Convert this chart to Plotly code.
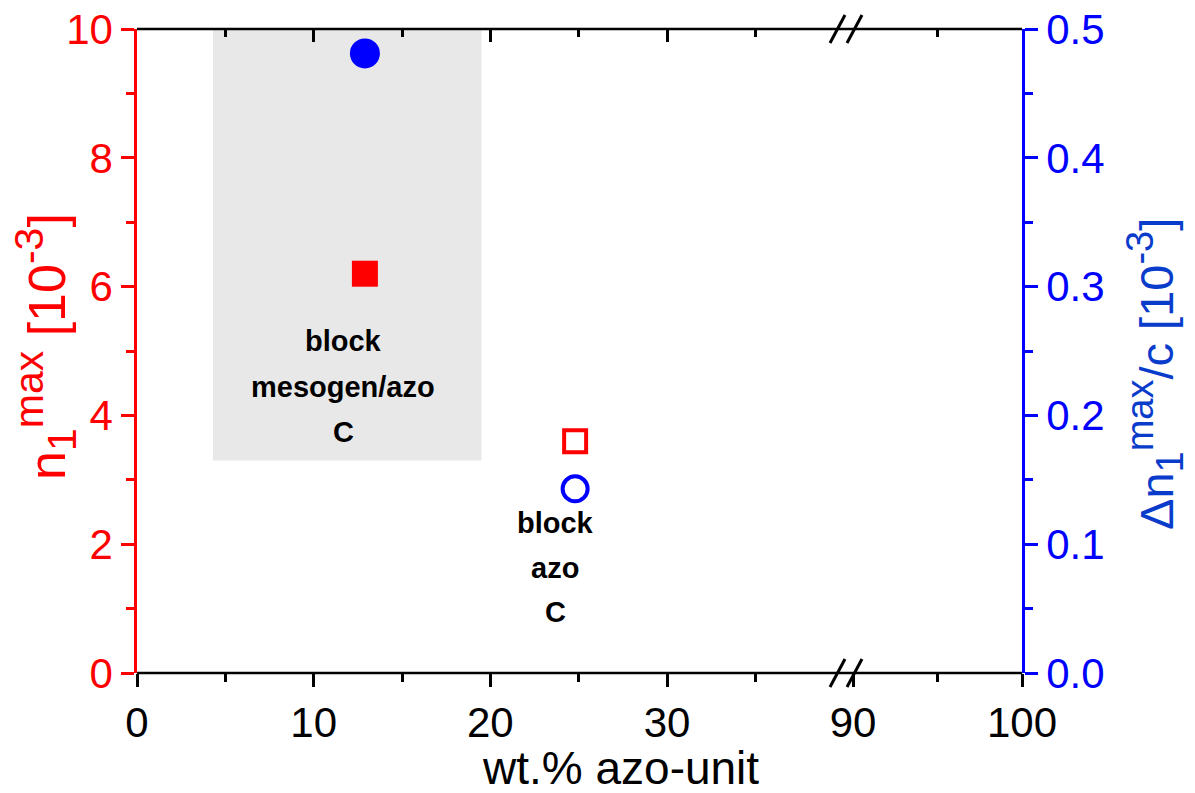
import plotly.graph_objects as go

# ---- data ----
x_filled = [12.9]
n1_filled = [6.2]          # left axis, red filled square
dn1_filled = [0.481]       # right axis, blue filled circle
x_open = [24.8]
n1_open = [3.6]            # left axis, red open square
dn1_open = [0.143]         # right axis, blue open circle

x_left_ticks = [0, 10, 20, 30]
x_left_minor = [5, 15, 25, 35]
x_right_ticks = [90, 100]
x_right_minor = [95]

shade_x = [4.3, 19.5]
shade_y = [3.3, 10]

labels1 = ["block", "mesogen/azo", "C"]
labels2 = ["block", "azo", "C"]

W, H = 1195, 793
L, R, T, B = 137, 173, 29, 120
PW, PH = W - L - R, H - T - B

def px(xp):
    return (xp - L) / PW

def py(yp):
    return (H - B - yp) / PH

FONT = "Liberation Sans, Arial, sans-serif"
RED = "#ff0000"
BLUE = "#0000ff"
BLUE_T = "#0a3ccc"

left_end = 0.8
right_start = (853 - L) / PW
x_left_range = [0, left_end * PW / ((667 - 137) / 30)]

fig = go.Figure()
fig.add_trace(go.Scatter(x=x_filled, y=n1_filled, mode="markers", xaxis="x", yaxis="y",
                         marker=dict(symbol="square", size=26, color=RED, line=dict(width=0)),
                         showlegend=False))
fig.add_trace(go.Scatter(x=x_open, y=n1_open, mode="markers", xaxis="x", yaxis="y",
                         marker=dict(symbol="square-open", size=22, color=RED, line=dict(width=4, color=RED)),
                         showlegend=False))
fig.add_trace(go.Scatter(x=x_filled, y=dn1_filled, mode="markers", xaxis="x", yaxis="y2",
                         marker=dict(symbol="circle", size=30, color=BLUE, line=dict(width=0)),
                         showlegend=False))
fig.add_trace(go.Scatter(x=x_open, y=dn1_open, mode="markers", xaxis="x", yaxis="y2",
                         marker=dict(symbol="circle-open", size=25, color=BLUE, line=dict(width=4, color=BLUE)),
                         showlegend=False))
# empty traces to create the other axis subplots
fig.add_trace(go.Scatter(x=[], y=[], xaxis="x2", yaxis="y", showlegend=False, hoverinfo="skip"))
fig.add_trace(go.Scatter(x=[], y=[], xaxis="x3", yaxis="y", showlegend=False, hoverinfo="skip"))
fig.add_trace(go.Scatter(x=[], y=[], xaxis="x4", yaxis="y", showlegend=False, hoverinfo="skip"))

TS = 42
tickfont = dict(family=FONT, size=TS, color="black")
common_x = dict(showgrid=False, zeroline=False, showline=False, ticklen=13, tickwidth=2.5,
                tickcolor="black", fixedrange=True)

fig.update_layout(
    width=W, height=H,
    margin=dict(l=L, r=R, t=T, b=B, autoexpand=False),
    plot_bgcolor="white", paper_bgcolor="white",
    font=dict(family=FONT),
    xaxis=dict(domain=[0, left_end], range=x_left_range, ticks="outside", tickmode="array",
               tickvals=x_left_ticks, tickfont=tickfont, anchor="y",
               minor=dict(tickmode="array", tickvals=x_left_minor, ticks="outside", ticklen=8,
                          tickwidth=2.5, tickcolor="black"),
               **common_x),
    xaxis2=dict(domain=[right_start, 1], range=[90, 100], ticks="outside", tickmode="array",
                tickvals=x_right_ticks, tickfont=tickfont, anchor="y",
                minor=dict(tickmode="array", tickvals=x_right_minor, ticks="outside", ticklen=8,
                           tickwidth=2.5, tickcolor="black"),
                **common_x),
    xaxis3=dict(overlaying="x", side="top", range=x_left_range, ticks="inside", tickmode="array",
                tickvals=x_left_ticks, showticklabels=False, anchor="y",
                minor=dict(tickmode="array", tickvals=x_left_minor, ticks="inside", ticklen=8,
                           tickwidth=2.5, tickcolor="black"),
                **common_x),
    xaxis4=dict(overlaying="x2", side="top", range=[90, 100], ticks="inside", tickmode="array",
                tickvals=x_right_ticks, showticklabels=False, anchor="y",
                minor=dict(tickmode="array", tickvals=x_right_minor, ticks="inside", ticklen=8,
                           tickwidth=2.5, tickcolor="black"),
                **common_x),
    yaxis=dict(range=[0, 10], dtick=2, tick0=0, ticks="outside", ticklen=13, tickwidth=2.5,
               tickcolor=RED, showline=True, linecolor=RED, linewidth=2.5,
               tickfont=dict(family=FONT, size=TS, color=RED), showgrid=False, zeroline=False,
               anchor="x", side="left",
               minor=dict(dtick=1, ticks="outside", ticklen=8, tickwidth=2.5, tickcolor=RED)),
    yaxis2=dict(range=[0, 0.5], dtick=0.1, tick0=0, ticks="outside", ticklen=13, tickwidth=2.5,
                tickcolor=BLUE, showline=True, linecolor=BLUE, linewidth=2.5, tickformat=".1f",
                tickfont=dict(family=FONT, size=TS, color=BLUE), showgrid=False, zeroline=False,
                overlaying="y", side="right", anchor="x2",
                minor=dict(dtick=0.05, ticks="outside", ticklen=8, tickwidth=2.5, tickcolor=BLUE)),
)

shapes = []
# shaded region
shapes.append(dict(type="rect", xref="x", yref="y", x0=shade_x[0], x1=shade_x[1],
                   y0=shade_y[0], y1=shade_y[1], fillcolor="#e8e8e8", line=dict(width=0),
                   layer="below"))
# continuous top and bottom axis lines
for yy in (0, 1):
    shapes.append(dict(type="line", xref="paper", yref="paper", x0=0, x1=1, y0=yy, y1=yy,
                       line=dict(color="black", width=2.5), layer="above"))
# break marks
for ypx in (T, H - B):
    for xc in (837.5, 854.5):
        shapes.append(dict(type="line", xref="paper", yref="paper",
                           x0=px(xc - 7.5), y0=py(ypx + 14), x1=px(xc + 7.5), y1=py(ypx - 14),
                           line=dict(color="black", width=3), layer="above"))
fig.update_layout(shapes=shapes)

ann = []
for i, t in enumerate(labels1):
    ann.append(dict(text="<b>%s</b>" % t, xref="paper", yref="paper", x=px(343), y=py(341 + 45.5 * i),
                    showarrow=False, font=dict(family=FONT, size=29, color="black"),
                    xanchor="center", yanchor="middle"))
for i, t in enumerate(labels2):
    ann.append(dict(text="<b>%s</b>" % t, xref="paper", yref="paper", x=px(555), y=py(523 + 44.5 * i),
                    showarrow=False, font=dict(family=FONT, size=29, color="black"),
                    xanchor="center", yanchor="middle"))
ann.append(dict(text="wt.% azo-unit", xref="paper", yref="paper", x=px(620), y=py(768),
                showarrow=False, font=dict(family=FONT, size=46, color="black"),
                xanchor="center", yanchor="middle"))
SUP = '<sup><span style="font-size:%dpx">%s</span></sup>'
SUB = '<sub><span style="font-size:%dpx">%s</span></sub>'
ann.append(dict(text="n" + SUB % (41, "1") + SUP % (41, "max") + " [10" + SUP % (41, "-3") + "]",
                xref="paper", yref="paper",
                x=px(45), y=py(347), textangle=-90, showarrow=False,
                font=dict(family=FONT, size=52, color=RED), xanchor="center", yanchor="middle"))
ann.append(dict(text="\u0394n" + SUB % (38, "1") + SUP % (38, "max") + "/c [10" + SUP % (38, "-3") + "]",
                xref="paper", yref="paper",
                x=px(1155), y=py(374), textangle=-90, showarrow=False,
                font=dict(family=FONT, size=47, color=BLUE_T), xanchor="center", yanchor="middle"))
fig.update_layout(annotations=ann)

fig.write_html("out.html")
